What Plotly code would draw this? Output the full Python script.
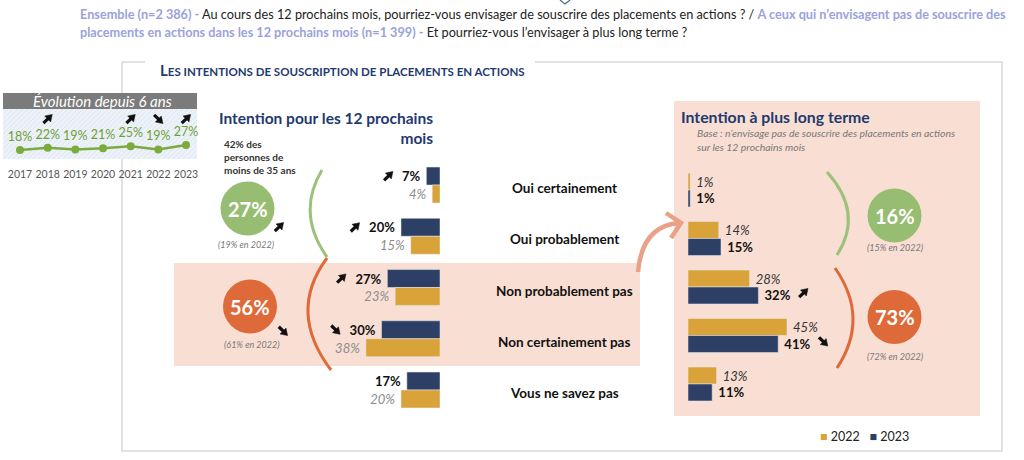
import math
import plotly.graph_objects as go

W, H = 1024, 460
def X(p): return p / W
def Y(p): return 1 - p / H

# ---------------- data ----------------
categories = ["Oui certainement", "Oui probablement", "Non probablement pas",
              "Non certainement pas", "Vous ne savez pas"]
short_2023 = [7, 20, 27, 30, 17]
short_2022 = [4, 15, 23, 38, 20]
short_trend = ["up", "up", "up", "down", None]
long_2022 = [1, 14, 28, 45, 13]
long_2023 = [1, 15, 32, 41, 11]
long_trend = [None, None, "up", "down", None]
years = [2017, 2018, 2019, 2020, 2021, 2022, 2023]
evolution = [18, 22, 19, 21, 25, 19, 27]
evolution_trend = [None, "up", None, None, "up", "down", "up"]
total_labels = ["27%", "56%", "16%", "73%"]
total_prev = ["(19% en 2022)", "(61% en 2022)", "(15% en 2022)", "(72% en 2022)"]
total_trend = ["up", "down", None, None]

NAVY = "#2d3f64"
GOLD = "#d9a33a"
GREEN = "#97bd72"
ORANGE = "#df6a39"
SALMON = "#f9ded3"
TITLE = "#1f3a6e"
LAV = "#9aa2dc"
FONT = "Lato"

# axis geometry (pixels) -> used for axis domains and to place decorations
L_DOM = (300, 440); L_RANGE = (140 / 1.95, 0)
L_YDOM = (159.4, 415.6)
R_DOM = (688, 908); R_RANGE = (0, 100)
R_YDOM = (165.75, 408.25)
E_DOM = (3, 197); E_RANGE = (2017 - 17 / 27.67, 2023 + 11 / 27.67)

def ax_px(v, dom, rng):
    return dom[0] + (v - rng[0]) / (rng[1] - rng[0]) * (dom[1] - dom[0])

def cat_px(i, ydom):
    step = (ydom[1] - ydom[0]) / 5
    return ydom[0] + step * (i + 0.5)

fig = go.Figure()

fig.add_trace(go.Bar(y=categories, x=short_2023, orientation="h", marker_color=NAVY,
                     name="2023", showlegend=False, xaxis="x", yaxis="y",
                     texttemplate="%{x}%\u00a0", textposition="outside", cliponaxis=False,
                     textfont=dict(family=FONT, size=13, color="#111", weight="bold")))
fig.add_trace(go.Bar(y=categories, x=short_2022, orientation="h", marker_color=GOLD,
                     name="2022", showlegend=False, xaxis="x", yaxis="y",
                     texttemplate="%{x}%\u00a0", textposition="outside", cliponaxis=False,
                     textfont=dict(family=FONT, size=13, color="#8c8c8c", style="italic")))
fig.add_trace(go.Bar(y=categories, x=long_2022, orientation="h", marker_color=GOLD,
                     name="2022", showlegend=False, xaxis="x2", yaxis="y2",
                     texttemplate="\u00a0%{x}%", textposition="outside", cliponaxis=False,
                     textfont=dict(family=FONT, size=13, color="#333", style="italic")))
fig.add_trace(go.Bar(y=categories, x=long_2023, orientation="h", marker_color=NAVY,
                     name="2023", showlegend=False, xaxis="x2", yaxis="y2",
                     texttemplate="\u00a0%{x}%", textposition="outside", cliponaxis=False,
                     textfont=dict(family=FONT, size=13, color="#111", weight="bold")))
fig.add_trace(go.Scatter(x=years, y=evolution, mode="lines+markers+text", xaxis="x3", yaxis="y3",
                         line=dict(color="#7aab3c", width=2.5), marker=dict(size=8, color="#7aab3c"),
                         text=[f"{v}%" for v in evolution], textposition="top center",
                         textfont=dict(family=FONT, size=12.5, color="#6f9f33"),
                         showlegend=False, cliponaxis=False, hoverinfo="skip"))

shapes = []
ann = []

def rect(x0, y0, x1, y1, fill, layer="below"):
    shapes.append(dict(type="rect", xref="paper", yref="paper", x0=X(x0), x1=X(x1),
                       y0=Y(y1), y1=Y(y0), fillcolor=fill, line=dict(width=0), layer=layer))

def path(pts, color, width, layer="above", fill=None):
    s = ""
    for cmd, *c in pts:
        s += cmd + " " + " ".join(f"{X(c[i]):.5f},{Y(c[i+1]):.5f}" for i in range(0, len(c), 2)) + " "
    if fill:
        s += "Z"
    d = dict(type="path", xref="paper", yref="paper", path=s,
             line=dict(color=color, width=width), layer=layer)
    if fill:
        d["fillcolor"] = fill
    shapes.append(d)

def text(x, y, t, size=12, color="#222", xanchor="center", align="center", weight=None):
    f = dict(family=FONT, size=size, color=color)
    if weight:
        f["weight"] = weight
    ann.append(dict(xref="paper", yref="paper", x=X(x), y=Y(y), text=t, showarrow=False,
                    xanchor=xanchor, yanchor="middle", align=align, font=f))

def arrow(direction, cx, cy):
    dx, dy = (1 / math.sqrt(2), -1 / math.sqrt(2)) if direction == "up" else (1 / math.sqrt(2), 1 / math.sqrt(2))
    nx, ny = -dy, dx
    tip = (cx + 6.5 * dx, cy + 6.5 * dy)
    base = (tip[0] - 6.5 * dx, tip[1] - 6.5 * dy)
    tail = (cx - 6 * dx, cy - 6 * dy)
    path([("M", tail[0], tail[1]), ("L", base[0] + 1 * dx, base[1] + 1 * dy)], "#111", 3.2)
    path([("M", tip[0], tip[1]), ("L", base[0] + 4.2 * nx, base[1] + 4.2 * ny),
          ("L", base[0] - 4.2 * nx, base[1] - 4.2 * ny)], "#111", 0.5, fill="#111")

# outer frame
path([("M", 145, 62), ("L", 122, 62), ("L", 122, 451), ("L", 1002, 451), ("L", 1002, 62), ("L", 535, 62)],
     "#d9d9d9", 1.5, layer="below")
text(158, 70, "L<span style='font-size:11.5px'>ES INTENTIONS DE SOUSCRIPTION DE PLACEMENTS EN ACTIONS</span>",
     size=15, color=TITLE, xanchor="left", weight="bold")

# top question text
text(78, 14, f"<b><span style='color:{LAV}'>Ensemble (n=2 386) -</span></b> Au cours des 12 prochains mois, "
     f"pourriez-vous envisager de souscrire des placements en actions ? / "
     f"<b><span style='color:{LAV}'>A ceux qui n’envisagent pas de souscrire des</span></b>",
     size=12.7, color="#222", xanchor="left")
text(78, 32, f"<b><span style='color:{LAV}'>placements en actions dans les 12 prochains mois (n=1 399) -</span></b>"
     f" Et pourriez-vous l’envisager à plus long terme ?", size=12.7, color="#222", xanchor="left")
path([("M", 560, 0), ("L", 565, 4), ("L", 570, 0)], "#4a6a8a", 1.2)

# salmon band and right panel
rect(174, 263, 640, 366, SALMON)
rect(674, 101, 980, 416, SALMON)

# evolution box (hatched background + grey header)
rect(3, 109, 197, 159, "#edf2f9")
for k in range(-12, 40):
    xa = 3 + k * 5
    x_start, y_start = xa, 159
    if x_start < 3:
        y_start = 159 - (3 - x_start); x_start = 3
    x_end, y_end = xa + 50, 109
    if x_end > 197:
        y_end = 109 + (x_end - 197); x_end = 197
    if x_start < x_end and y_start > y_end:
        path([("M", x_start, y_start), ("L", x_end, y_end)], "#d9e3f1", 0.8, layer="below")
rect(3, 93, 197, 109, "#7b7b7b")
text(102, 101, "<i>Évolution depuis 6 ans</i>", size=15, color="white")

# section titles
text(435, 128, "<b>Intention pour les 12 prochains<br>mois</b>", size=15.5, color=TITLE,
     xanchor="right", align="right")
text(222, 157, "<b>42% des<br>personnes de<br>moins de 35 ans</b>", size=10, color="#333",
     xanchor="left", align="left")
text(679, 117, "<b>Intention à plus long terme</b>", size=15.8, color=TITLE, xanchor="left")
text(695, 140, "<i>Base : n’envisage pas de souscrire des placements en actions<br>sur les 12 prochains mois</i>",
     size=10.4, color="#777", xanchor="left", align="left")

# circles
circles = [(247.5, 208.5, GREEN), (250, 306.5, ORANGE), (894.5, 215.5, GREEN), (894.5, 317, ORANGE)]
prev_pos = [(246, 244), (252, 344), (895, 247), (895, 356)]
trend_pos = [(279, 227), (283, 331), None, None]
for i, (cx, cy, col) in enumerate(circles):
    r = 27
    shapes.append(dict(type="circle", xref="paper", yref="paper", x0=X(cx - r), x1=X(cx + r),
                       y0=Y(cy + r), y1=Y(cy - r), fillcolor=col, line=dict(width=0), layer="above"))
    text(cx, cy, f"<b>{total_labels[i]}</b>", size=20, color="white")
    text(prev_pos[i][0], prev_pos[i][1], f"<i>{total_prev[i]}</i>", size=9, color="#777")
    if total_trend[i]:
        arrow(total_trend[i], *trend_pos[i])

# brackets
path([("M", 322, 170), ("Q", 296, 213, 327, 257)], "#9cc27a", 3)
path([("M", 327, 258), ("Q", 287, 312, 331, 370)], ORANGE, 3)
path([("M", 827, 172), ("Q", 864, 213, 837, 255)], "#9cc27a", 3)
path([("M", 835, 268), ("Q", 870, 318, 837, 368)], ORANGE, 3)

# curved salmon arrow
path([("M", 638, 272), ("Q", 642, 226, 679, 223)], "#e9a287", 4.5)
path([("M", 666, 213), ("L", 681, 223), ("L", 671, 238)], "#e9a287", 4.5)

# category labels
for c in categories:
    ann.append(dict(xref="paper", yref="y", x=X(564), y=c, yshift=-3, text=f"<b>{c}</b>",
                    showarrow=False, font=dict(family=FONT, size=13.5, color="#111")))

# trend arrows next to the bar labels
for i, (v, t) in enumerate(zip(short_2023, short_trend)):
    if t:
        arrow(t, ax_px(v, L_DOM, L_RANGE) - (30 + 8 * len(str(v))), cat_px(i, L_YDOM) - 9)
for i, (v, t) in enumerate(zip(long_2023, long_trend)):
    if t:
        arrow(t, ax_px(v, R_DOM, R_RANGE) + 45, cat_px(i, R_YDOM) + 6)
for yr, t in zip(years, evolution_trend):
    if t:
        arrow(t, ax_px(yr, E_DOM, E_RANGE), 119)

# legend
text(818, 436, f"<span style='color:{GOLD}'>■</span> 2022   <span style='color:{NAVY}'>■</span> 2023",
     size=12.5, color="#222", xanchor="left")

hidden = dict(visible=False, fixedrange=True)
fig.update_layout(
    width=W, height=H, margin=dict(l=0, r=0, t=0, b=0),
    paper_bgcolor="white", plot_bgcolor="rgba(0,0,0,0)",
    barmode="group", bargap=0.3, bargroupgap=0,
    xaxis=dict(domain=[X(L_DOM[0]), X(L_DOM[1])], range=list(L_RANGE), **hidden),
    yaxis=dict(domain=[Y(L_YDOM[1]), Y(L_YDOM[0])], type="category", range=[4.5, -0.5], anchor="x", **hidden),
    xaxis2=dict(domain=[X(R_DOM[0]), X(R_DOM[1])], range=list(R_RANGE), anchor="y2", **hidden),
    yaxis2=dict(domain=[Y(R_YDOM[1]), Y(R_YDOM[0])], type="category", range=[4.5, -0.5], anchor="x2", **hidden),
    xaxis3=dict(domain=[X(E_DOM[0]), X(E_DOM[1])], range=list(E_RANGE), anchor="y3",
                tickvals=years, tickangle=0, showgrid=False, zeroline=False, showline=False, ticks="",
                tickfont=dict(family=FONT, size=10.5, color="#555"), ticklabelstandoff=6, fixedrange=True),
    yaxis3=dict(domain=[Y(160), Y(109)], range=[0, 92], anchor="x3", **hidden),
    shapes=shapes, annotations=ann, showlegend=False,
)
fig.write_html("out.html", config={"displayModeBar": False},
               post_script="document.body.style.margin='0';document.body.style.overflow='hidden';")
